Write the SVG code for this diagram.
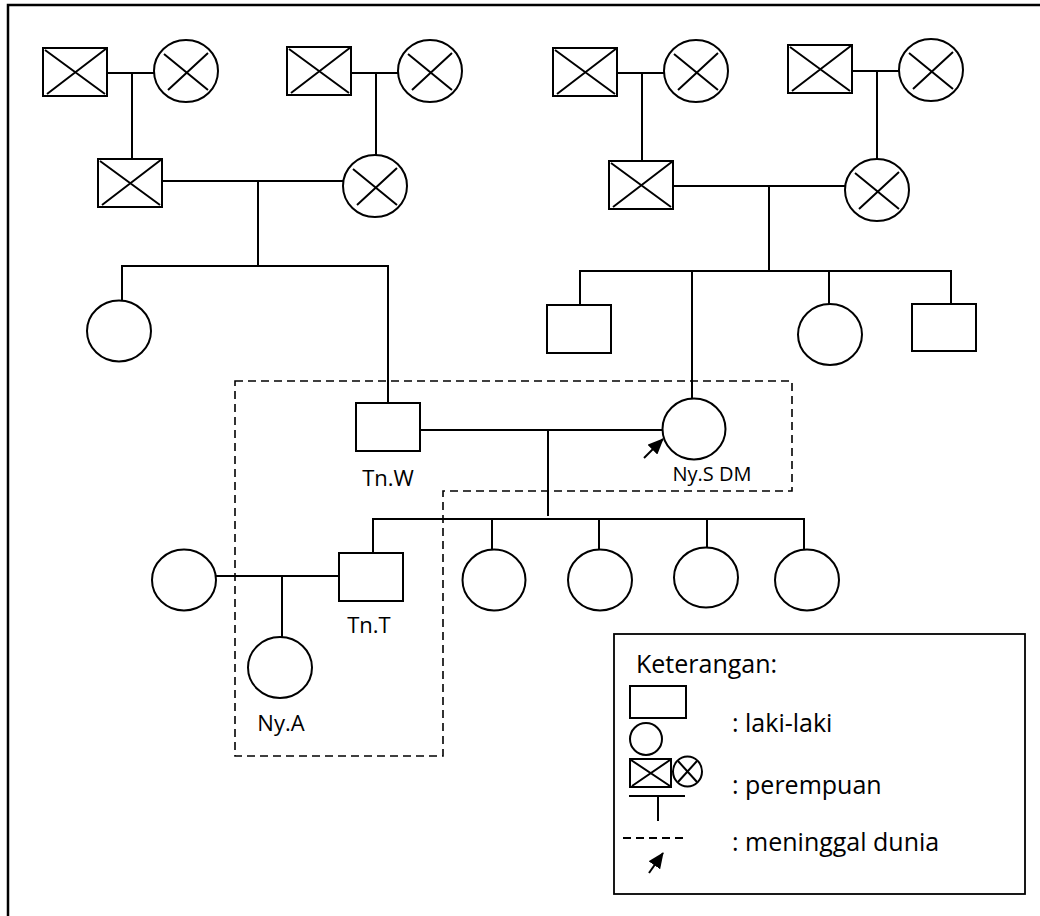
<svg xmlns="http://www.w3.org/2000/svg" xmlns:xlink="http://www.w3.org/1999/xlink" width="1040" height="916" viewBox="0 0 1040 916">
<style>
  .s { fill: #fff; stroke: #000; stroke-width: 2; }
  .ln { fill: none; stroke: #000; stroke-width: 2; }
  .dash { fill: none; stroke: #000; stroke-width: 1.6; stroke-dasharray: 8 5; }
  .lbl { font-family: "Open Sans", "Noto Sans", sans-serif; font-size: 22px; fill: #000; }
  .leg { font-family: "Open Sans", "Noto Sans", sans-serif; font-size: 25px; fill: #000; }
</style>
<defs>
  <g id="xsq">
    <rect class="s" x="0" y="0" width="64" height="48"/>
    <path class="ln" d="M2,2 L62,46 M4,46 L64,0"/>
  </g>
  <g id="xci">
    <ellipse class="s" cx="0" cy="0" rx="32" ry="31"/>
    <path class="ln" d="M-22,-17 L22,19 M-18,19 L22,-18"/>
  </g>
  <marker id="ah" markerUnits="userSpaceOnUse" markerWidth="16" markerHeight="14" refX="15" refY="7" orient="auto">
    <path d="M0,0 L16,7 L0,14 z" fill="#000"/>
  </marker>
</defs>
<rect width="1040" height="916" fill="#fff"/>
<rect x="8" y="5" width="1060" height="940" fill="none" stroke="#000" stroke-width="2.5"/>

<g id="connectors">
  <path class="ln" d="M107,73 H154 M132,73 V159"/>
  <path class="ln" d="M351,73 H398 M376,73 V155"/>
  <path class="ln" d="M162,181 H343 M258,181 V266 M122,301 V266 H388 V403"/>
  <path class="ln" d="M617,73 H664 M642,73 V161"/>
  <path class="ln" d="M852,71 H899 M877,71 V159"/>
  <path class="ln" d="M673,186 H853 M769,186 V271 M580,305 V271 H951 V304 M692,271 V398 M829,271 V304"/>
  <path class="ln" d="M420,430 H663 M548,430 V516"/>
  <path class="ln" d="M373,553 V519 H804 V549 M492,519 V549 M599,519 V549 M707,519 V547"/>
  <path class="ln" d="M215,576 H339 M282,576 V637"/>
  <line class="ln" x1="644" y1="458" x2="663" y2="439" stroke-width="2.5" marker-end="url(#ah)"/>
</g>

<path id="dashed-box" class="dash" d="M235,381 H792 V491 H443 V756 H235 Z"/>

<g id="ggf1"><use xlink:href="#xsq" x="43" y="48"/></g>
<g id="ggm1"><use xlink:href="#xci" x="186" y="71"/></g>
<g id="ggf2"><use xlink:href="#xsq" x="287" y="47"/></g>
<g id="ggm2"><use xlink:href="#xci" x="430" y="71"/></g>
<g id="gf1"><use xlink:href="#xsq" x="98" y="159"/></g>
<g id="gm1"><use xlink:href="#xci" x="375" y="186"/></g>
<g id="ggf3"><use xlink:href="#xsq" x="553" y="48"/></g>
<g id="ggm3"><use xlink:href="#xci" x="696" y="71"/></g>
<g id="ggf4"><use xlink:href="#xsq" x="788" y="45"/></g>
<g id="ggm4"><use xlink:href="#xci" x="931" y="70"/></g>
<g id="gf2"><use xlink:href="#xsq" x="609" y="161"/></g>
<g id="gm2"><use xlink:href="#xci" x="877" y="190"/></g>

<g id="aunt1"><ellipse class="s" cx="119" cy="331" rx="32" ry="30.5"/></g>
<g id="tnw">
  <rect class="s" x="356" y="403" width="64" height="48"/>
  <text class="lbl" x="388" y="486" text-anchor="middle">Tn.W</text>
</g>
<g id="uncle1"><rect class="s" x="547" y="305" width="64" height="48"/></g>
<g id="nys">
  <ellipse class="s" cx="694" cy="429" rx="31.5" ry="30.5"/>
  <text class="lbl" x="712" y="481" text-anchor="middle" style="font-size:20px">Ny.S DM</text>
</g>
<g id="aunt2"><ellipse class="s" cx="830" cy="334.5" rx="32" ry="30.5"/></g>
<g id="uncle2"><rect class="s" x="912" y="304" width="64" height="47"/></g>

<g id="wife"><ellipse class="s" cx="184" cy="580" rx="32" ry="30.5"/></g>
<g id="tnt">
  <rect class="s" x="339" y="553" width="64" height="48"/>
  <text class="lbl" x="369" y="633" text-anchor="middle">Tn.T</text>
</g>
<g id="nya">
  <ellipse class="s" cx="280" cy="667.5" rx="32" ry="30.5"/>
  <text class="lbl" x="281" y="731" text-anchor="middle">Ny.A</text>
</g>
<g id="child1"><ellipse class="s" cx="494" cy="580" rx="31.5" ry="30.5"/></g>
<g id="child2"><ellipse class="s" cx="600" cy="580" rx="32" ry="30.5"/></g>
<g id="child3"><ellipse class="s" cx="706" cy="577.5" rx="32" ry="30"/></g>
<g id="child4"><ellipse class="s" cx="807" cy="580" rx="32" ry="30.5"/></g>

<g id="legend">
  <rect x="614" y="634" width="411" height="260" fill="#fff" stroke="#000" stroke-width="1.8"/>
  <text class="leg" x="636" y="673">Keterangan:</text>
  <rect class="s" x="630" y="686" width="56" height="32"/>
  <ellipse class="s" cx="646" cy="739" rx="16" ry="16"/>
  <rect class="s" x="630" y="759" width="41" height="28"/>
  <path class="ln" d="M631,760 L670,786 M632,786 L670,760"/>
  <ellipse class="s" cx="687.5" cy="771.5" rx="14.5" ry="15"/>
  <path class="ln" d="M678,761 L697,782 M678,782 L697,761"/>
  <path class="ln" d="M629,796 H685 M658,796 V821"/>
  <path class="dash" d="M623,838 H686" style="stroke-width:2"/>
  <line class="ln" x1="649" y1="873" x2="663" y2="853" stroke-width="2.5" marker-end="url(#ah)"/>
  <text class="leg" x="732" y="732">: laki-laki</text>
  <text class="leg" x="732" y="794">: perempuan</text>
  <text class="leg" x="732" y="851">: meninggal dunia</text>
</g>
</svg>
